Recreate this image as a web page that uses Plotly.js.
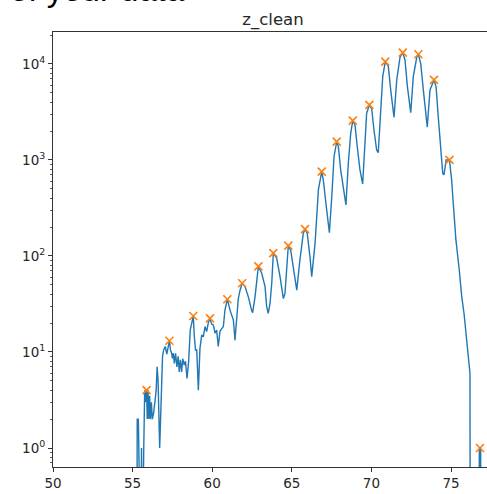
<!DOCTYPE html>
<html>
<head>
<meta charset="utf-8">
<script src="https://cdn.plot.ly/plotly-3.0.1.min.js"></script>
<style>html,body{margin:0;padding:0;background:#fff;}#chart{width:487px;height:494px;}</style>
</head>
<body>
<div id="chart"></div>
<script>
// z_clean counts
const zX = [55.27,55.29,55.36,55.40,55.44,55.52,55.56,55.62,55.70,55.76,55.80,55.88,55.92,55.97,56.02,56.07,56.12,56.18,56.24,56.32,56.40,56.48,56.54,56.60,56.70,56.80,56.88,56.95,57.05,57.15,57.24,57.31,57.38,57.45,57.50,57.56,57.62,57.70,57.78,57.86,57.93,58.00,58.08,58.15,58.24,58.32,58.42,58.52,58.62,58.72,58.81,58.88,58.95,59.03,59.13,59.23,59.34,59.44,59.55,59.65,59.75,59.86,59.96,60.07,60.18,60.28,60.38,60.49,60.60,60.70,60.80,60.95,61.12,61.22,61.33,61.43,61.54,61.64,61.75,61.88,62.06,62.27,62.48,62.54,62.69,62.80,62.90,63.11,63.32,63.42,63.52,63.63,63.74,63.84,64.05,64.26,64.47,64.57,64.68,64.78,64.93,65.10,65.31,65.51,65.72,65.83,65.97,66.14,66.25,66.46,66.56,66.67,66.88,66.98,67.19,67.36,67.51,67.65,67.82,67.92,68.07,68.24,68.40,68.55,68.70,68.83,68.97,69.11,69.28,69.45,69.60,69.70,69.87,70.02,70.16,70.33,70.43,70.58,70.71,70.87,71.06,71.21,71.42,71.59,71.80,71.97,72.11,72.26,72.47,72.63,72.85,72.95,73.10,73.26,73.51,73.57,73.68,73.93,74.06,74.20,74.35,74.48,74.56,74.69,74.90,75.04,75.14,75.31,75.52,75.67,75.82,75.99,76.15,76.19,76.21,76.75,76.78,76.82,76.86,76.88];
const zY = [0,2,2,1,0,0,1,0,1,4,3,4,2,4,2,3.5,2,3,2,2.3,3,4,7,5,1,5,9,10.5,11.4,9.5,11,13.1,10.5,9.7,8.6,9.7,7.6,9.7,7.0,9.0,6.2,8.3,6.2,8.5,7.3,8.0,5.3,8.0,16.9,20.0,23.7,14.4,10.5,10.5,4.0,10.9,15.0,14.4,18.4,16.3,20.0,22.4,19.5,19.1,15.7,16.9,11.4,16.5,17.5,18.4,27.3,35.4,27.3,24.3,21.5,13.3,24.3,36,44,52,48,37.5,27,25.7,37.5,60,78,66,48,29.7,25.3,32,52,107,95,61,36,40.7,80,128,115,71,44,91,172,190,172,98,61,135,257,490,755,617,302,175,414,1080,1550,1400,787,490,340,930,1900,2570,2300,1380,787,562,1490,3070,3740,3400,2050,1270,1190,3070,7370,10570,9500,5360,2780,6810,11800,13100,11000,5800,3100,7370,11800,12600,10000,5360,2200,3070,5360,6810,5800,2800,1380,725,700,1000,1000,617,355,146,71,38,25,13.3,7.3,6,0,0,1,1,1,0];
// detected peaks
const peakX = [55.88,57.31,58.81,59.86,60.95,61.88,62.90,63.84,64.78,65.83,66.88,67.82,68.83,69.87,70.87,71.97,72.95,73.93,74.90,76.82];
const peakY = [4,13.1,23.7,22.4,35.4,52,78,107,128,190,755,1550,2570,3740,10570,13100,12600,6810,1000,1];
const xTicks = [50,55,60,65,70,75];
const yTicks = [1,10,100,1000,10000];
const yTickText = ['10<sup>0</sup>','10<sup>1</sup>','10<sup>2</sup>','10<sup>3</sup>','10<sup>4</sup>'];

// zero counts sit below the log axis floor (clipped like matplotlib)
const zYPlot = zY.map(v => v > 0 ? v : 0.05);
const minorVals = [];
for (let e = -1; e <= 4; e++) for (let m = 2; m <= 9; m++) minorVals.push(m * Math.pow(10, e));

const font = {family: 'DejaVu Sans, sans-serif', size: 13.5, color: '#262626'};
const data = [
  {x: zX, y: zYPlot, type: 'scatter', mode: 'lines', line: {color: '#1f77b4', width: 1.4}, hoverinfo: 'skip'},
  {x: peakX, y: peakY, type: 'scatter', mode: 'markers', cliponaxis: false,
   marker: {symbol: 'x-thin', size: 8, color: '#ff7f0e', line: {color: '#ff7f0e', width: 1.6}}}
];
const layout = {
  width: 487, height: 494,
  margin: {l: 53, r: 0, t: 32, b: 27, pad: 0},
  paper_bgcolor: '#fff', plot_bgcolor: '#fff',
  showlegend: false,
  font: font,
  title: {text: 'z_clean', font: {family: 'DejaVu Sans, sans-serif', size: 16.5, color: '#262626'},
          x: 273/487, xref: 'container', xanchor: 'center', y: 1 - 19/494, yref: 'container', yanchor: 'middle'},
  xaxis: {range: [50, 77.26], tickvals: xTicks, ticks: 'outside', ticklen: 4, tickwidth: 1, tickcolor: '#333',
          showline: true, linecolor: '#333', linewidth: 1, mirror: true, showgrid: false, zeroline: false,
          tickfont: font},
  yaxis: {type: 'log', range: [Math.log10(0.634), Math.log10(21500)], tickvals: yTicks, ticktext: yTickText,
          ticks: 'outside', ticklen: 4, tickwidth: 1, tickcolor: '#333',
          minor: {tickvals: minorVals, ticks: 'outside', ticklen: 2, tickwidth: 0.8, tickcolor: '#333', showgrid: false},
          showline: true, linecolor: '#333', linewidth: 1, mirror: false, showgrid: false, zeroline: false,
          tickfont: font},
  annotations: [{text: 'of your data', xref: 'paper', yref: 'paper', x: (8-53)/434, y: (467-10)/435,
                 xanchor: 'left', yanchor: 'bottom', showarrow: false,
                 font: {family: 'Liberation Sans, Arial, sans-serif', size: 33, color: '#000'}}]
};
Plotly.newPlot('chart', data, layout, {staticPlot: true, displayModeBar: false});
</script>
</body>
</html>
